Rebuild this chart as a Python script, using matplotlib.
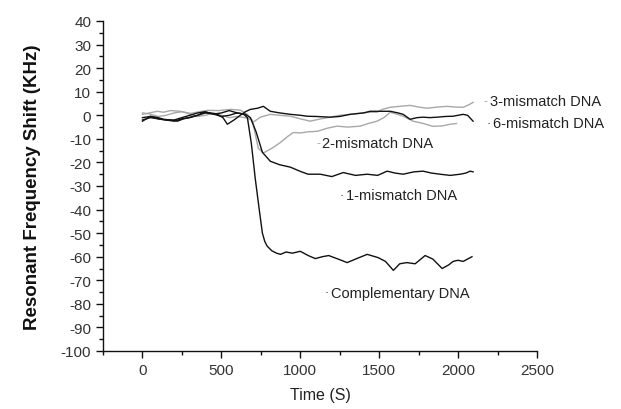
import matplotlib
matplotlib.use("Agg")
import matplotlib.pyplot as plt
from matplotlib.ticker import MultipleLocator

plt.rcParams['font.family'] = ['Liberation Sans', 'DejaVu Sans']
plt.rcParams['axes.unicode_minus'] = False

# ===== Data =====
t_comp = [0, 50, 100, 150, 200, 250, 300, 350, 400, 450, 500, 550, 600, 640, 665,
          690, 715, 740, 760, 775, 790, 820, 850, 875, 910, 950, 1000, 1050, 1095,
          1140, 1180, 1240, 1297, 1350, 1424, 1494, 1540, 1590, 1630, 1675, 1728,
          1791, 1840, 1899, 1940, 1968, 2000, 2032, 2060, 2088]
v_comp = [-2, -1, -1.5, -2, -2.5, -1.5, -1, 0, 1, 0.5, -0.5, 0, 1, 0.5, -1,
          -12, -27, -40, -50, -53.5, -55.5, -57.5, -58.5, -59, -58, -58.5, -57.7, -59.5, -60.8,
          -60, -59.5, -61, -62.5, -61, -59, -60.4, -62, -65.8, -63, -62.5, -63,
          -59.5, -61, -65, -63.5, -62, -61.5, -62, -61, -60]

t_mm1 = [0, 50, 100, 150, 200, 250, 300, 350, 400, 450, 500, 550, 600, 650, 684,
         720, 760, 810, 870, 937, 1000, 1050, 1127, 1200, 1272, 1350, 1424, 1490,
         1550, 1600, 1652, 1720, 1778, 1830, 1886, 1950, 2013, 2050, 2076, 2095]
v_mm1 = [-1, -0.5, -1.5, -2, -2, -1, 0, 1, 1.5, 0.5, 1, 2, 1, 0.5, -1,
         -7, -15.7, -19.5, -21, -22, -23.8, -25, -25, -26, -24.3, -25.5, -25, -25.5,
         -23.7, -24.5, -25, -24, -23.7, -24.5, -25, -25.5, -25, -24.5, -23.7, -24]

t_mm2 = [0, 50, 100, 150, 200, 250, 300, 350, 400, 450, 500, 550, 600, 650, 696,
         715, 734, 766, 820, 873, 920, 956, 1000, 1050, 1108, 1170, 1234, 1300, 1380,
         1430, 1487, 1530, 1570, 1610, 1652, 1715, 1780, 1842, 1900, 1950, 1990]
v_mm2 = [1, 0.5, -0.5, 0, 1, 1.5, 0.5, -0.5, 0, 1, 0, -1, -0.5, -1, -2,
         -8, -14, -16, -14, -11.6, -9, -7.3, -7.5, -7, -6.8, -5.5, -4.6, -5, -4.6,
         -3.5, -2.5, -1, 1.3, 0.5, -0.4, -2.5, -3.5, -4.7, -4.5, -3.8, -3.5]

t_mm3 = [0, 95, 133, 180, 240, 304, 360, 411, 480, 557, 620, 665, 700, 747, 810,
         870, 937, 1000, 1063, 1130, 1190, 1250, 1316, 1400, 1443, 1487, 1520, 1570,
         1630, 1696, 1750, 1804, 1870, 1930, 1980, 2032, 2070, 2095]
v_mm3 = [0.4, 1.7, 1.3, 2, 1.7, 0.8, 1.5, 2.1, 2, 2.5, 2.2, 0.4, -3, -0.8, 0.4,
         0, -0.4, -1.5, -2.5, -1.5, -0.8, 0, 0.4, 1, 1.3, 1.3, 2.5, 3.4,
         3.8, 4.2, 3.5, 3, 3.5, 3.8, 3.5, 3.4, 4.5, 5.5]

t_mm6 = [0, 51, 100, 133, 180, 222, 260, 304, 350, 386, 430, 475, 510, 538, 580,
         620, 652, 684, 730, 766, 810, 870, 937, 1000, 1044, 1100, 1190, 1250, 1316,
         1400, 1443, 1487, 1570, 1620, 1652, 1696, 1740, 1778, 1820, 1867, 1920, 1968,
         2000, 2032, 2060, 2095]
v_mm6 = [-2.5, -0.4, -1, -1.7, -2, -2.5, -1.5, -0.8, 0, 1.3, 1, 0.4, -1, -3.8, -2,
         0, 1.5, 2.5, 3, 3.8, 1.7, 1, 0.4, 0, -0.4, -0.5, -0.8, -0.5, 0.4,
         1, 1.7, 1.7, 1.7, 1, 0.4, -1.7, -1, -0.8, -1, -0.8, -0.5, -0.4,
         0, 0.4, 0, -2.5]

labels = ["3-mismatch DNA", "6-mismatch DNA", "2-mismatch DNA",
          "1-mismatch DNA", "Complementary DNA"]
label_x = [2200, 2220, 1140, 1290, 1195]
label_y = [6.2, -3.2, -11.8, -33.8, -75.2]
label_mark = ["-", "·", "-", "·", "·"]

BLACK = "#111111"
GRAY = "#a8a8a8"
label_color = [GRAY, BLACK, GRAY, BLACK, BLACK]

# ===== Plot =====
fig = plt.figure(figsize=(6.21, 4.10), dpi=100)
ax = fig.add_axes([103 / 621, 1 - 352 / 410, 434 / 621, 330 / 410])

ax.plot(t_mm3, v_mm3, color=GRAY, lw=1.0)
ax.plot(t_mm2, v_mm2, color=GRAY, lw=1.0)
ax.plot(t_mm6, v_mm6, color=BLACK, lw=1.0)
ax.plot(t_mm1, v_mm1, color=BLACK, lw=1.0)
ax.plot(t_comp, v_comp, color=BLACK, lw=1.0)

for lab, x, y, m, c in zip(labels, label_x, label_y, label_mark, label_color):
    ax.text(x - 40, y, m, color=c, fontsize=9, va="center", ha="left")
    ax.text(x, y, lab, color="#222222", fontsize=10.5, va="center", ha="left")

ax.set_xlim(-250, 2500)
ax.set_ylim(-100, 40)
ax.xaxis.set_major_locator(MultipleLocator(500))
ax.xaxis.set_minor_locator(MultipleLocator(250))
ax.yaxis.set_major_locator(MultipleLocator(10))
ax.yaxis.set_minor_locator(MultipleLocator(5))
ax.set_xticks([0, 500, 1000, 1500, 2000, 2500])

for s in ["top", "right"]:
    ax.spines[s].set_visible(False)
for s in ["left", "bottom"]:
    ax.spines[s].set_linewidth(1.0)
    ax.spines[s].set_color(BLACK)

ax.tick_params(which="major", direction="out", length=5, width=1, colors=BLACK,
               labelsize=11, labelcolor="#333333")
ax.tick_params(which="minor", direction="out", length=3, width=1, colors=BLACK)

ax.set_xlabel("Time (S)", fontsize=11.5, color="#222222", labelpad=7)
ax.set_ylabel("Resonant Frequency Shift (KHz)", fontsize=13.5, fontweight="bold",
              color="#111111", labelpad=14)

fig.savefig("out.png", dpi=100)
